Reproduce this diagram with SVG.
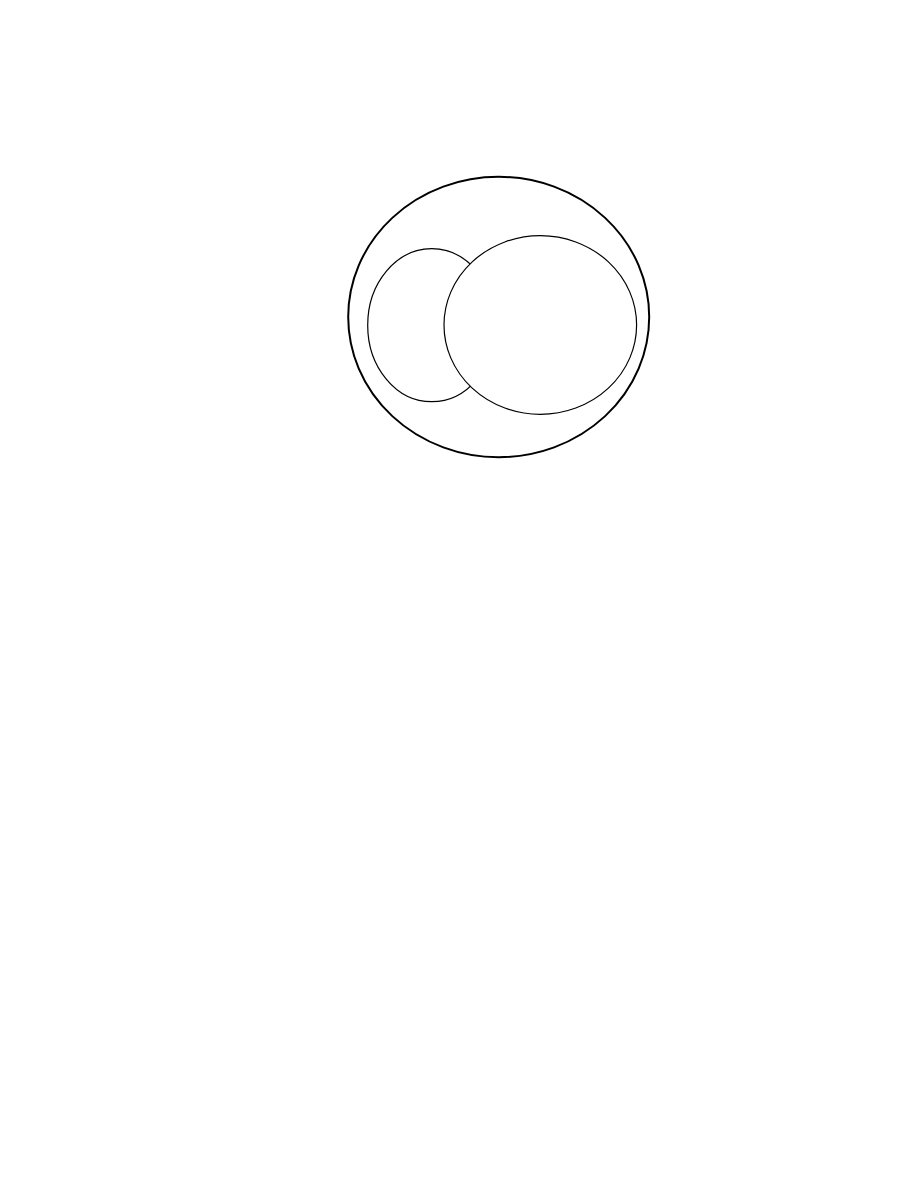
<svg xmlns="http://www.w3.org/2000/svg" width="918" height="1188" viewBox="0 0 918 1188">
<style>
.e{fill:#ffffff;stroke:#000000}
</style>
<rect width="918" height="1188" fill="#ffffff"/>
<g id="outer"><ellipse class="e" cx="498.7" cy="317" rx="150.5" ry="140.2" stroke-width="2"/></g>
<g id="left"><ellipse class="e" cx="431.7" cy="325.2" rx="64" ry="76.5" stroke-width="1.2"/></g>
<g id="right"><ellipse class="e" cx="540.3" cy="325" rx="96.3" ry="89.3" stroke-width="1.2"/></g>
<g id="connectors"></g>
</svg>
